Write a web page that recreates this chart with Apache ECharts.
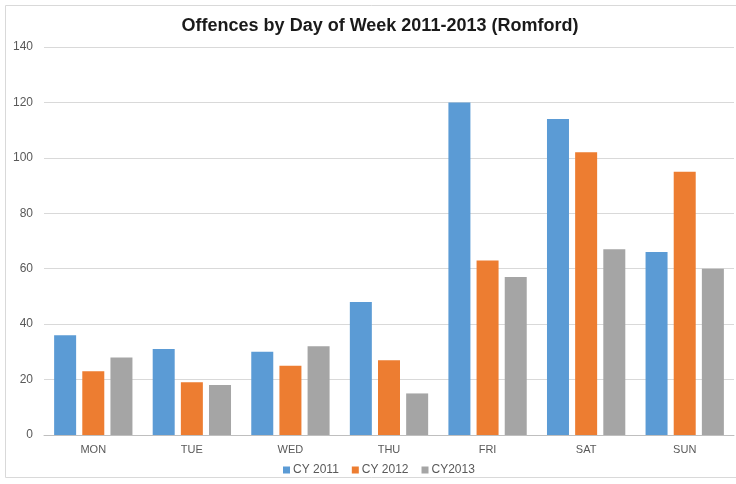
<!DOCTYPE html>
<html><head><meta charset="utf-8">
<script src="https://cdn.jsdelivr.net/npm/echarts@6/dist/echarts.min.js"></script>
<style>html,body{margin:0;padding:0;background:#fff}#c{width:736px;height:484px}</style>
</head><body><div id="c"></div>
<script>
const categories = ['MON','TUE','WED','THU','FRI','SAT','SUN'];
const seriesNames = ['CY 2011','CY 2012','CY2013'];
const cy2011 = [36,31,30,48,120,114,66];
const cy2012 = [23,19,25,27,63,102,95];
const cy2013 = [28,18,32,15,57,67,60];
const colors = ['#5B9BD5','#ED7D31','#A5A5A5'];
const chart = echarts.init(document.getElementById('c'));
const font = 'Liberation Sans, Arial, sans-serif';
chart.setOption({
  animation:false,
  textStyle:{fontFamily:font},
  graphic:[{type:'rect',shape:{x:5.5,y:5.5,width:740,height:472},style:{fill:'none',stroke:'#d9d9d9',lineWidth:1},silent:true}],
  title:{text:'Offences by Day of Week 2011-2013 (Romford)',left:375,textAlign:'center',top:12,
    textStyle:{fontFamily:font,fontSize:18,fontWeight:'bold',color:'#1a1a1a'}},
  legend:{bottom:3,left:278,itemWidth:7,itemHeight:7,itemGap:13,icon:'rect',
    textStyle:{fontFamily:font,fontSize:12,color:'#595959',padding:[0,0,0,-2]},data:seriesNames},
  grid:{left:44,right:2,top:47,bottom:49,containLabel:false},
  xAxis:{type:'category',data:categories,
    axisLine:{lineStyle:{color:'#bfbfbf'}},axisTick:{show:false},
    axisLabel:{fontFamily:font,fontSize:11,color:'#595959',margin:9}},
  yAxis:{type:'value',min:0,max:140,interval:20,
    axisLine:{show:false},axisTick:{show:false},
    splitLine:{lineStyle:{color:'#d9d9d9'}},
    axisLabel:{fontFamily:font,fontSize:12,color:'#595959',margin:11}},
  series:[
    {name:seriesNames[0],type:'bar',data:cy2011,barWidth:22,barGap:'28%',itemStyle:{color:colors[0]}},
    {name:seriesNames[1],type:'bar',data:cy2012,barWidth:22,barGap:'28%',itemStyle:{color:colors[1]}},
    {name:seriesNames[2],type:'bar',data:cy2013,barWidth:22,barGap:'28%',itemStyle:{color:colors[2]}}
  ]
});
</script></body></html>
